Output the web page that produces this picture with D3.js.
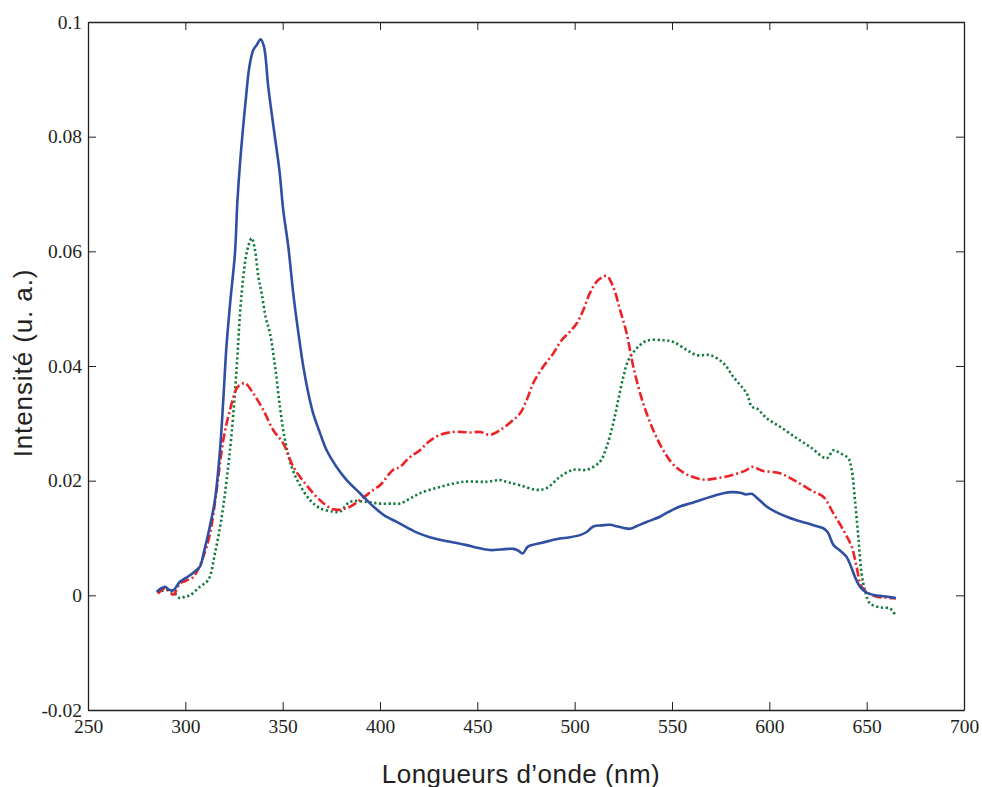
<!DOCTYPE html>
<html><head><meta charset="utf-8">
<script src="https://cdn.jsdelivr.net/npm/d3@7"></script>
<style>body{margin:0;background:#fff}svg{display:block}</style>
</head><body><svg id="c" width="982" height="787"></svg>
<script>
const xTicks=[250,300,350,400,450,500,550,600,650,700];
const yTicks=[-0.02,0,0.02,0.04,0.06,0.08,0.1];
const xLabel="Longueurs d\u2019onde (nm)";
const yLabel="Intensit\u00e9 (u. a.)";

const blueX=[285.3,287.5,289.6,291.5,293.8,297.3,300,302.4,305,307.5,309.5,311.8,313.5,315.2,317.8,319.5,321,322.5,323.3,325.5,326.7,328.1,331.2,332.9,334.9,336.7,338.7,340.4,342.6,345.5,348.3,350.3,352.9,355.5,358.1,360.6,363.2,365.7,369.2,372.6,377.7,382.9,389.7,396.6,402,408.6,414,420,426,432,438,444,450,456.5,462,468.5,471,473.3,476,482.2,487,492.5,497,502.7,506,509.6,514,518.2,522,528.4,532,537,543.8,548,554.1,559,564.4,570,576.4,581,585,588,591,593,598.6,603,608.9,614,619.2,624,627.7,630,632.9,636,639.7,642,644,646,648.3,651,656.8,660,663.7,665];
const blueY=[0.0006,0.0012,0.0015,0.001,0.0009,0.0024,0.003,0.0035,0.0042,0.005,0.0075,0.0108,0.0135,0.0166,0.0253,0.0341,0.0428,0.049,0.052,0.0597,0.0684,0.0754,0.087,0.0922,0.0951,0.096,0.097,0.0957,0.0887,0.0812,0.0742,0.0672,0.0608,0.0525,0.0457,0.0399,0.0352,0.0317,0.0283,0.0253,0.0224,0.0201,0.0178,0.0155,0.014,0.0128,0.0118,0.0108,0.0101,0.0096,0.0092,0.0088,0.0083,0.0079,0.008,0.0081,0.0078,0.0073,0.0085,0.0091,0.0095,0.0099,0.0101,0.0105,0.011,0.012,0.0122,0.0123,0.012,0.0116,0.0121,0.0128,0.0137,0.0145,0.0155,0.016,0.0166,0.0172,0.0178,0.018,0.0179,0.0176,0.0177,0.0172,0.0155,0.0146,0.0137,0.0131,0.0126,0.0121,0.0117,0.011,0.0088,0.0079,0.0067,0.005,0.0032,0.0018,0.0009,0.0003,-0.0001,-0.0002,-0.0004,-0.0005];

const redX=[286,289.6,291.5,293.8,297.3,300,304.1,306.5,309.2,312.7,316.1,319.5,322.9,326.4,328.5,330.7,334.9,340.1,345.2,350.3,355.5,362.3,369.2,376,382.9,389.7,396.6,400,406.8,410.3,415,420.5,425,430.8,437.6,442,446.2,451.4,456.5,461.6,468.5,471.9,475.4,478.7,483.9,489,493.3,497.6,501,504.5,507.8,512.1,516.4,519.8,523.3,526.7,530.1,535.2,540.4,545.5,550.7,557.5,566.1,574.6,583.2,588,591,596.9,605.5,614.1,622.6,627.7,632.9,638,642.3,644.8,647.4,651.7,656,660,663.7,665];
const redY=[0.0003,0.0013,0.0008,0.0001,0.0021,0.0025,0.0032,0.0045,0.0067,0.0108,0.0184,0.0271,0.0323,0.0361,0.0368,0.037,0.0352,0.0323,0.0288,0.0265,0.0224,0.0192,0.0166,0.015,0.0152,0.0166,0.0184,0.0192,0.0219,0.0224,0.024,0.0253,0.0268,0.028,0.0285,0.0285,0.0284,0.0285,0.028,0.0288,0.0306,0.0317,0.0341,0.037,0.0399,0.0422,0.0445,0.046,0.0474,0.0498,0.0527,0.055,0.0557,0.0538,0.0498,0.0457,0.0399,0.0335,0.0288,0.0253,0.0228,0.0211,0.0202,0.0205,0.0212,0.0218,0.0224,0.0217,0.0213,0.0198,0.0181,0.0172,0.0143,0.0114,0.0085,0.005,0.0015,0.0002,-0.0003,-0.0004,-0.0005,-0.0005];

const greenX=[285.3,288,291.3,294.7,297.3,300,302.4,307.5,311.8,315.2,318.7,321.2,323.8,326.4,328.1,329.8,331.8,334.1,335.8,337.5,339.2,341.4,343.5,346.1,348.6,351.2,354.6,358.9,364.1,369.2,376,379.4,384.6,393.1,400,406.8,410.3,415,420.5,430.8,442.8,454.8,461.6,466,471.9,480.5,485.6,492.5,499.3,506.2,513,516.4,519.8,522.4,525,527.6,531.9,537,545.5,550.7,557.5,562.7,569.5,576.4,581.5,588.4,591,593.6,598.6,605.5,614.1,620.9,629.5,632.9,636.3,640.6,642.3,644,645.7,647.4,649.1,651.7,656.8,662,664.6];
const greenY=[0.0006,0.0008,0.0009,0.0003,-0.0005,-0.0002,0,0.0015,0.0027,0.0073,0.0137,0.0201,0.0283,0.0399,0.0492,0.0556,0.0602,0.0623,0.0602,0.0556,0.0527,0.0483,0.0457,0.0399,0.0329,0.0271,0.0224,0.0192,0.0166,0.0152,0.0146,0.0146,0.0163,0.0163,0.016,0.016,0.016,0.0168,0.0178,0.0189,0.0198,0.0198,0.0201,0.0197,0.0192,0.0184,0.0187,0.0207,0.0219,0.0219,0.0233,0.0259,0.03,0.0341,0.0381,0.041,0.0431,0.0444,0.0445,0.0442,0.0428,0.0419,0.0419,0.0405,0.0381,0.0352,0.0329,0.0326,0.0309,0.0294,0.0274,0.0259,0.0239,0.0253,0.0248,0.0239,0.0219,0.0166,0.0102,0.0038,0.0009,-0.0014,-0.0021,-0.0023,-0.0034];

const svg=d3.select("#c");
const m={l:88,r:964,t:22,b:710};
const x=d3.scaleLinear().domain([250,700]).range([m.l,m.r]);
const y=d3.scaleLinear().domain([-0.02,0.1]).range([m.b,m.t]);
const fmt=d=>d===0?"0":(d<0?"-":"")+String(Math.abs(+d.toFixed(2)));

const tl=8;
const serif="'Liberation Serif','Times New Roman',serif";
const gB=svg.append("g").attr("transform",`translate(0,${m.b})`)
  .call(d3.axisBottom(x).tickValues(xTicks).tickSizeInner(-tl).tickSizeOuter(0).tickFormat(d=>d));
const gT=svg.append("g").attr("transform",`translate(0,${m.t})`)
  .call(d3.axisTop(x).tickValues(xTicks).tickSizeInner(-tl).tickSizeOuter(0).tickFormat(""));
const gL=svg.append("g").attr("transform",`translate(${m.l},0)`)
  .call(d3.axisLeft(y).tickValues(yTicks).tickSizeInner(-tl).tickSizeOuter(0).tickPadding(6).tickFormat(fmt));
const gR=svg.append("g").attr("transform",`translate(${m.r},0)`)
  .call(d3.axisRight(y).tickValues(yTicks).tickSizeInner(-tl).tickSizeOuter(0).tickFormat(""));
[gB,gT,gL,gR].forEach(g=>{
  g.selectAll(".domain").attr("stroke","#231f20").attr("stroke-width",1.3);
  g.selectAll(".tick line").attr("stroke","#231f20").attr("stroke-width",1);
  g.selectAll("text").attr("font-family",serif).attr("font-size",19.5).attr("fill","#231f20");
});
gB.selectAll("text").attr("y",23).attr("dy",0);
gL.selectAll("text").attr("dy","0.32em");

const line=d3.line().x(d=>x(d[0])).y(d=>y(d[1])).curve(d3.curveCatmullRom.alpha(0.5));
const series=[
  {xs:greenX,ys:greenY,color:"#117a3b",dash:"2.2,2.6"},
  {xs:redX,ys:redY,color:"#ec2227",dash:"9,3,2,3"},
  {xs:blueX,ys:blueY,color:"#2f4fa2",dash:null}
];
series.forEach(s=>{
  const p=svg.append("path").datum(d3.zip(s.xs,s.ys)).attr("d",line)
    .attr("fill","none").attr("stroke",s.color).attr("stroke-width",2.6)
    .attr("stroke-linejoin","round");
  if(s.dash) p.attr("stroke-dasharray",s.dash);
});

const sans="'Liberation Sans',Arial,sans-serif";
svg.append("text").attr("x",521).attr("y",783)
  .attr("text-anchor","middle").attr("font-family",sans).attr("letter-spacing",0.45)
  .attr("font-size",26).attr("fill","#231f20").text(xLabel);
svg.append("text").attr("transform",`translate(32,363) rotate(-90)`)
  .attr("text-anchor","middle").attr("font-family",sans).attr("letter-spacing",0.9)
  .attr("font-size",26).attr("fill","#231f20").text(yLabel);
</script></body></html>
